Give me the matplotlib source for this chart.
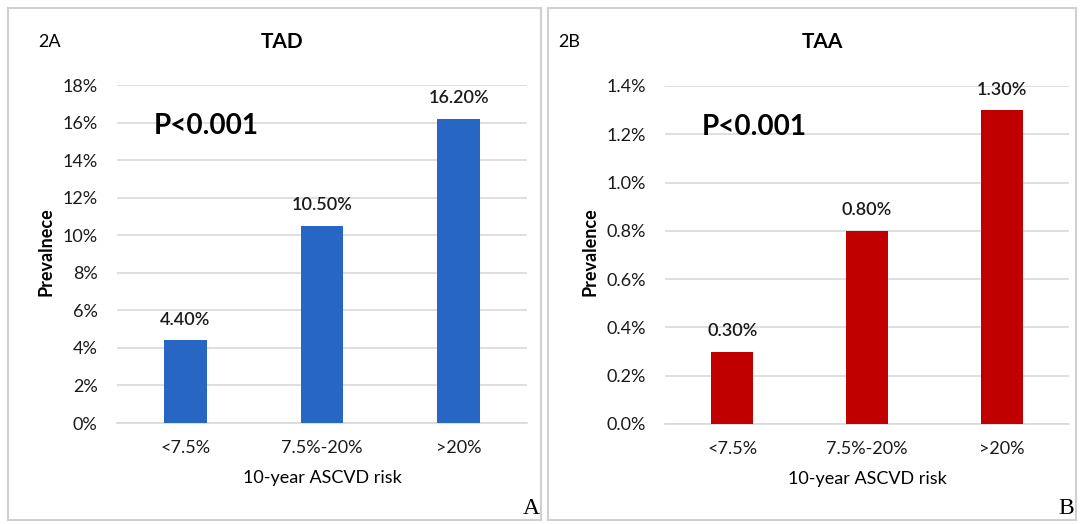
import matplotlib.pyplot as plt
from matplotlib.patches import Rectangle
from matplotlib.ticker import FuncFormatter

plt.rcParams['font.family'] = ['Lato', 'DejaVu Sans']

risk_groups = ["<7.5%", "7.5%-20%", ">20%"]
tad_prev = [4.4, 10.5, 16.2]
taa_prev = [0.3, 0.8, 1.3]
tad_ticks = [0, 2, 4, 6, 8, 10, 12, 14, 16, 18]
taa_ticks = [0.0, 0.2, 0.4, 0.6, 0.8, 1.0, 1.2, 1.4]

W, H = 1080, 524
fig = plt.figure(figsize=(W / 100, H / 100), dpi=100)


def px(x0, y0, x1, y1):
    # pixel box -> figure fraction rect
    return [x0 / W, 1 - y1 / H, (x1 - x0) / W, (y1 - y0) / H]


def panel(box, ax_box, vals, ticks, fmt, color, tag, title, ylabel,
          corner, ylab_x, tag_x, title_x):
    # panel frame
    fig.patches.append(Rectangle((box[0] / W, 1 - box[3] / H),
                                 (box[2] - box[0]) / W, (box[3] - box[1]) / H,
                                 transform=fig.transFigure, fill=False,
                                 edgecolor="#d0d0d0", linewidth=1.5))
    ax = fig.add_axes(px(*ax_box))
    x = range(len(vals))
    ax.bar(x, vals, width=0.31, color=color, zorder=3)
    ax.set_xlim(-0.5, 2.5)
    ax.set_ylim(0, ticks[-1])
    ax.set_yticks(ticks)
    ax.yaxis.set_major_formatter(FuncFormatter(fmt))
    ax.set_xticks(list(x))
    ax.set_xticklabels(risk_groups)
    ax.grid(axis="y", color="#d9d9d9", linewidth=1.2, zorder=0)
    for s in ["top", "right", "left"]:
        ax.spines[s].set_visible(False)
    ax.spines["bottom"].set_color("#d9d9d9")
    ax.spines["bottom"].set_linewidth(1.2)
    ax.tick_params(length=0, labelsize=13, colors="#1a1a1a")
    ax.tick_params(axis="y", pad=14)
    ax.tick_params(axis="x", pad=12)
    for xi, v in zip(x, vals):
        ax.annotate(f"{v:.2f}%", (xi, v), xytext=(0, 9),
                    textcoords="offset points", ha="center", va="bottom",
                    fontsize=13, fontweight="semibold", color="#1a1a1a")
    ax.text(0.09, 0.88, "P<0.001", transform=ax.transAxes, fontsize=20,
            fontweight="bold", va="center", ha="left")
    ax.set_xlabel("10-year ASCVD risk", fontsize=13, labelpad=10)
    fig.text(ylab_x / W, 1 - 252 / H, ylabel, rotation=90, fontsize=13,
             fontweight="bold", ha="center", va="center")
    fig.text(tag_x / W, 1 - 42 / H, tag, fontsize=13, ha="left", va="center")
    fig.text(title_x / W, 1 - 42 / H, title, fontsize=15, fontweight="bold",
             ha="center", va="center")
    fig.text(corner[0] / W, 1 - corner[1] / H, corner[2], fontsize=17,
             family="Liberation Serif", ha="center", va="center")
    return ax


panel((8, 8, 541, 520), (117, 85, 527, 423), tad_prev, tad_ticks,
      lambda v, p: f"{v:.0f}%", "#2866c4", "2A", "TAD", "Prevalnece",
      (531, 508, "A"), 46, 38, 282)
panel((548, 8, 1076, 520), (665, 86, 1069, 424), taa_prev, taa_ticks,
      lambda v, p: f"{v:.1f}%", "#c00000", "2B", "TAA", "Prevalence",
      (1066, 508, "B"), 590, 558, 822)

fig.savefig("out.png", dpi=100)
